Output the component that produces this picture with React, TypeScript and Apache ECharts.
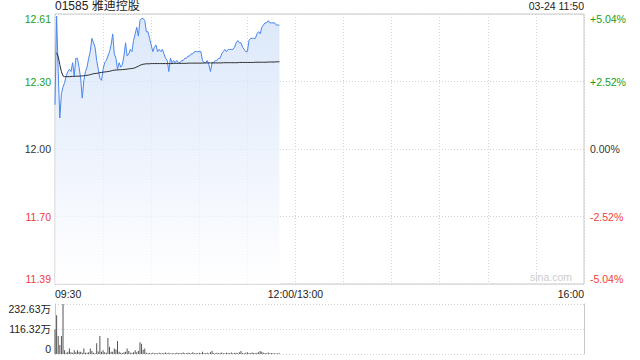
import React, { useEffect, useRef } from "react";
import * as echarts from "echarts";

const stockTitle = "01585 雅迪控股";
const updateTime = "03-24 11:50";
const watermark = "sina.com";
const priceMin = 11.39;
const priceMax = 12.61;
const priceTickLabels = ["11.39", "11.70", "12.00", "12.30", "12.61"];
const pctTickLabels = ["-5.04%", "-2.52%", "0.00%", "+2.52%", "+5.04%"];
const timeTickLabels: Record<number, string> = { 0: "09:30", 150: "12:00/13:00", 330: "16:00" };
const volTickLabels = ["0", "116.32万", "232.63万"];
const volMax = 232.63;

// minute index 0 = 09:30
const prices = [
  12.20, 12.60, 12.35, 12.14, 12.25, 12.28, 12.30, 12.33, 12.35, 12.36,
  12.35, 12.39, 12.33, 12.41, 12.41, 12.37, 12.32, 12.23, 12.31, 12.35,
  12.37, 12.41, 12.44, 12.50, 12.48, 12.46, 12.40, 12.36, 12.32, 12.31,
  12.36, 12.39, 12.40, 12.42, 12.44, 12.47, 12.52, 12.43, 12.41, 12.36,
  12.39, 12.37, 12.38, 12.42, 12.48, 12.42, 12.43, 12.45, 12.44, 12.49,
  12.52, 12.55, 12.51, 12.58, 12.59, 12.59, 12.58, 12.53, 12.53, 12.50,
  12.47, 12.44, 12.46, 12.47, 12.44, 12.45, 12.44, 12.45, 12.43, 12.41,
  12.40, 12.35, 12.41, 12.39, 12.40, 12.39, 12.40, 12.39, 12.39, 12.40,
  12.40, 12.41, 12.41, 12.42, 12.42, 12.43, 12.43, 12.44, 12.44, 12.44,
  12.44, 12.44, 12.40, 12.39, 12.39, 12.40, 12.38, 12.35, 12.39, 12.39,
  12.40, 12.40, 12.41, 12.41, 12.43, 12.44, 12.45, 12.44, 12.45, 12.45,
  12.45, 12.45, 12.46, 12.48, 12.49, 12.48, 12.48, 12.46, 12.45, 12.44,
  12.44, 12.49, 12.50, 12.50, 12.50, 12.50, 12.52, 12.53, 12.52, 12.55,
  12.56, 12.57, 12.57, 12.58, 12.57, 12.57, 12.57, 12.57, 12.56, 12.56,
  12.56,
];

const avgPrices: (number | null)[] = [
  null, 12.435, 12.417, 12.381, 12.349, 12.330, 12.327, 12.327, 12.327, 12.327,
  12.328, 12.328, 12.328, 12.329, 12.329, 12.329, 12.330, 12.330, 12.331, 12.332,
  12.333, 12.334, 12.336, 12.338, 12.340, 12.341, 12.342, 12.343, 12.345, 12.346,
  12.347, 12.348, 12.349, 12.350, 12.351, 12.353, 12.355, 12.356, 12.357, 12.357,
  12.358, 12.358, 12.359, 12.359, 12.360, 12.361, 12.362, 12.363, 12.364, 12.365,
  12.367, 12.371, 12.374, 12.378, 12.381, 12.383, 12.384, 12.385, 12.385, 12.385,
  12.386, 12.386, 12.386, 12.386, 12.386, 12.386, 12.386, 12.386, 12.386, 12.386,
  12.386, 12.386, 12.386, 12.386, 12.387, 12.387, 12.387, 12.387, 12.387, 12.387,
  12.387, 12.387, 12.387, 12.388, 12.388, 12.388, 12.388, 12.388, 12.388, 12.388,
  12.388, 12.388, 12.388, 12.389, 12.389, 12.389, 12.389, 12.389, 12.389, 12.389,
  12.389, 12.389, 12.389, 12.389, 12.389, 12.390, 12.390, 12.390, 12.390, 12.390,
  12.390, 12.390, 12.390, 12.390, 12.390, 12.391, 12.391, 12.391, 12.391, 12.391,
  12.391, 12.391, 12.391, 12.391, 12.391, 12.392, 12.392, 12.392, 12.392, 12.392,
  12.392, 12.392, 12.392, 12.393, 12.393, 12.393, 12.393, 12.393, 12.394, 12.394,
  12.394,
];

// 万股
const volumes = [
  115, 180, 84, 42, 84, 232.63, 18, 6, 11, 26,
  8, 6, 18, 8, 18, 11, 11, 6, 26, 6,
  6, 8, 26, 14, 6, 4, 50, 12, 84, 11,
  18, 8, 6, 75, 34, 10, 11, 26, 21, 60,
  11, 6, 5, 8, 11, 26, 14, 6, 6, 8,
  18, 8, 14, 55, 48, 20, 26, 6, 3, 5,
  4, 6, 3, 5, 2, 6, 4, 3, 5, 7,
  3, 6, 2, 5, 4, 3, 6, 4, 5, 3,
  7, 4, 3, 6, 5, 4, 8, 3, 5, 4,
  6, 3, 11, 5, 4, 6, 3, 8, 14, 5,
  4, 6, 3, 5, 7, 4, 3, 6, 5, 4,
  7, 3, 5, 6, 4, 8, 14, 5, 4, 6,
  8, 5, 4, 7, 5, 3, 6, 8, 14, 11,
  6, 5, 4, 7, 3, 5, 4, 3, 2, 4,
  3,
];

const FONT = "Arial, 'Liberation Sans', 'Noto Sans CJK SC', sans-serif";
const GREEN = "#1a9e1a";
const RED = "#f03c3c";
const DARK = "#333333";
const GRID_LINE = "#d2d2d2";
const BORDER = "#c8c8c8";
const tickColor = (i: number) => (i < 2 ? RED : i === 2 ? DARK : GREEN);

export default function App() {
  const ref = useRef<HTMLDivElement>(null);
  useEffect(() => {
    if (!ref.current) return;
    const chart = echarts.init(ref.current, undefined, { renderer: "svg" });
    const pctStep = 2.52;
    const volStep = volMax / 2;
    const option: any = {
      animation: false,
      textStyle: { fontFamily: FONT },
      grid: [
        { left: 55, right: 56, top: 14, height: 270, show: true, borderColor: BORDER, borderWidth: 1, backgroundColor: "transparent" },
        { left: 55, right: 56, top: 304, height: 50 },
      ],
      xAxis: [
        {
          type: "value", gridIndex: 0, min: 0, max: 330, interval: 30,
          axisLine: { show: false }, axisTick: { show: false },
          splitLine: { show: true, lineStyle: { color: GRID_LINE, type: [1, 2], width: 1 } },
          axisLabel: {
            formatter: (v: number) => timeTickLabels[Math.round(v)] ?? "",
            fontSize: 10.5, color: "#222", margin: 5, fontFamily: FONT,
            alignMinLabel: "left", alignMaxLabel: "right", showMinLabel: true, showMaxLabel: true,
          },
        },
        { type: "value", gridIndex: 1, min: 0, max: 330, show: false },
      ],
      yAxis: [
        {
          type: "value", gridIndex: 0, position: "left", min: -2, max: 2, interval: 1,
          axisLine: { show: false }, axisTick: { show: false },
          splitLine: { show: true, lineStyle: { color: GRID_LINE, type: [1, 2], width: 1 } },
          axisLabel: {
            formatter: (v: number) => priceTickLabels[Math.round(v) + 2],
            color: (v: any) => tickColor(Math.round(Number(v)) + 2),
            fontSize: 10.5, margin: 4, fontFamily: FONT,
            verticalAlignMinLabel: "bottom", verticalAlignMaxLabel: "top",
          },
        },
        {
          type: "value", gridIndex: 0, position: "right", min: -5.04, max: 5.04, interval: pctStep,
          axisLine: { show: false }, axisTick: { show: false }, splitLine: { show: false },
          axisLabel: {
            formatter: (v: number) => pctTickLabels[Math.round(v / pctStep) + 2],
            color: (v: any) => tickColor(Math.round(Number(v) / pctStep) + 2),
            fontSize: 10.5, margin: 6, fontFamily: FONT,
            verticalAlignMinLabel: "bottom", verticalAlignMaxLabel: "top",
          },
        },
        { type: "value", gridIndex: 0, min: priceMin, max: priceMax, show: false, splitLine: { show: false } },
        {
          type: "value", gridIndex: 1, position: "left", min: 0, max: volMax, interval: volStep,
          axisLine: { show: true, lineStyle: { color: BORDER } }, axisTick: { show: false },
          splitLine: { show: true, lineStyle: { color: GRID_LINE, type: [1, 2], width: 1 } },
          axisLabel: {
            formatter: (v: number) => volTickLabels[Math.round(v / volStep)],
            color: "#222", fontSize: 10.5, margin: 4, fontFamily: FONT,
            verticalAlignMinLabel: "bottom", verticalAlignMaxLabel: "top",
          },
        },
        {
          type: "value", gridIndex: 1, position: "right", min: 0, max: volMax,
          axisLine: { show: true, lineStyle: { color: BORDER } }, axisTick: { show: false },
          axisLabel: { show: false }, splitLine: { show: false },
        },
      ],
      series: [
        {
          type: "line", xAxisIndex: 0, yAxisIndex: 2, showSymbol: false, symbol: "none",
          data: prices.map((p, i) => [i, p]),
          lineStyle: { color: "#4a86ee", width: 1 },
          areaStyle: {
            origin: "start",
            color: new echarts.graphic.LinearGradient(0, 0, 0, 1, [
              { offset: 0, color: "#cddef8" },
              { offset: 1, color: "#ffffff" },
            ]),
          },
          z: 3,
        },
        {
          type: "line", xAxisIndex: 0, yAxisIndex: 2, showSymbol: false, symbol: "none",
          data: avgPrices.map((p, i) => [i, p]).filter((d) => d[1] != null),
          lineStyle: { color: "#2b2b2b", width: 1 },
          z: 4,
        },
        {
          type: "bar", xAxisIndex: 1, yAxisIndex: 3, barWidth: 1,
          data: volumes.map((v, i) => [i, v]),
          itemStyle: { color: "#555555" },
        },
      ],
      graphic: [
        { type: "text", left: 55, top: 0, style: { text: stockTitle, fontSize: 12, fill: "#222", fontFamily: FONT } },
        { type: "text", right: 56, top: 1, style: { text: updateTime, fontSize: 10.5, fill: "#222", fontFamily: FONT } },
        { type: "text", right: 68, top: 272, style: { text: watermark, fontSize: 10.5, fill: "#cccccc", fontFamily: FONT } },
      ],
    };
    chart.setOption(option);
    return () => chart.dispose();
  }, []);
  return <div ref={ref} style={{ position: "fixed", left: 0, top: 0, width: 640, height: 360, background: "#fff" }} />;
}
